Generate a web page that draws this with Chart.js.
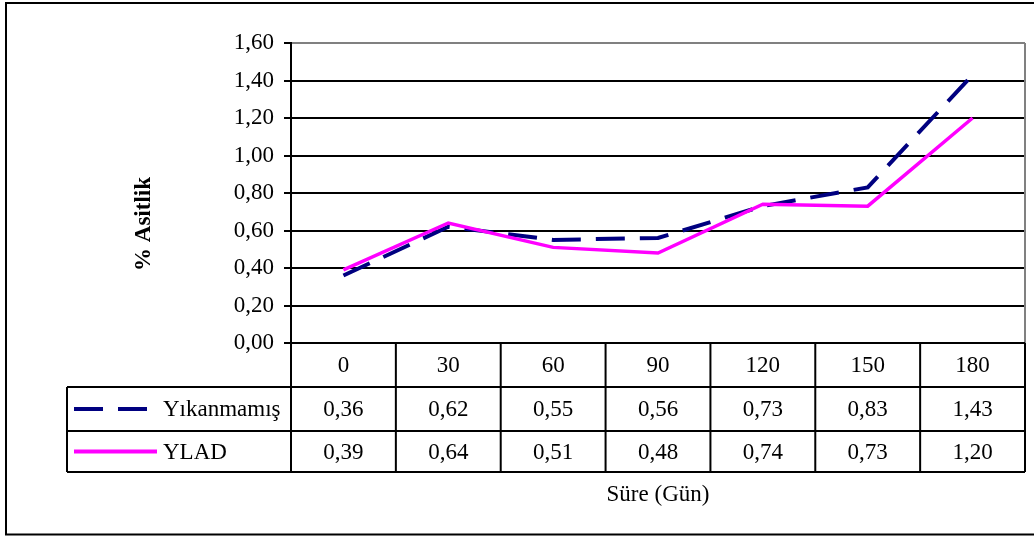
<!DOCTYPE html>
<html>
<head>
<meta charset="utf-8">
<script src="https://cdn.jsdelivr.net/npm/chart.js@4/dist/chart.umd.min.js"></script>
<style>
  html, body { margin: 0; padding: 0; background: #fff; }
  canvas { display: block; }
</style>
</head>
<body>
<canvas id="c" width="1034" height="536"></canvas>
<script>
// Acidity (%) over storage time (days)
const categories = ['0', '30', '60', '90', '120', '150', '180'];
const yikanmamis = [0.36, 0.62, 0.55, 0.56, 0.73, 0.83, 1.43];
const ylad = [0.39, 0.64, 0.51, 0.48, 0.74, 0.73, 1.20];
const seriesNames = ['Yıkanmamış', 'YLAD'];
const yTitle = '% Asitlik';
const xTitle = 'Süre (Gün)';
const yMin = 0, yMax = 1.6, yStep = 0.2;

const FONT = '"Liberation Serif", "Times New Roman", serif';
const FONT_SIZE = 23;
const NAVY = '#000080';
const PINK = '#FF00FF';
const DASH = [29, 15];

const fmt = v => Number(v).toFixed(2).replace('.', ',');

// Table rows under the plot: header height, series row heights
const ROW_H = [44, 44, 41];
const TABLE_LEFT = 67;

const tablePlugin = {
  id: 'dataTable',
  afterDraw(chart) {
    const ctx = chart.ctx;
    const area = chart.chartArea;
    const xs = chart.scales.x;
    const step = (area.right - area.left) / categories.length;
    const edges = categories.map((_, i) => xs.getPixelForValue(i) - step / 2);
    edges.push(xs.getPixelForValue(categories.length - 1) + step / 2);

    const y0 = area.bottom;
    const y1 = y0 + ROW_H[0];
    const y2 = y1 + ROW_H[1];
    const y3 = y2 + ROW_H[2];

    ctx.save();

    // plot frame (grey on top and right)
    ctx.strokeStyle = '#808080';
    ctx.lineWidth = 2;
    ctx.beginPath();
    ctx.moveTo(area.right, area.top);
    ctx.lineTo(area.right, area.bottom);
    ctx.stroke();

    // table grid
    ctx.strokeStyle = '#000';
    ctx.lineWidth = 2;
    ctx.beginPath();
    ctx.moveTo(edges[0], y0); ctx.lineTo(edges[edges.length - 1], y0);
    [y1, y2, y3].forEach(y => { ctx.moveTo(TABLE_LEFT, y); ctx.lineTo(edges[edges.length - 1], y); });
    edges.forEach(x => { ctx.moveTo(x, y0); ctx.lineTo(x, y3); });
    ctx.moveTo(TABLE_LEFT, y1); ctx.lineTo(TABLE_LEFT, y3);
    ctx.stroke();

    // cell text
    ctx.fillStyle = '#000';
    ctx.font = FONT_SIZE + 'px ' + FONT;
    ctx.textAlign = 'center';
    ctx.textBaseline = 'middle';
    categories.forEach((c, i) => {
      const cx = xs.getPixelForValue(i);
      ctx.fillText(c, cx, (y0 + y1) / 2 + 1);
      ctx.fillText(fmt(yikanmamis[i]), cx, (y1 + y2) / 2 + 1);
      ctx.fillText(fmt(ylad[i]), cx, (y2 + y3) / 2 + 1);
    });

    // legend keys in the first column
    const r1 = (y1 + y2) / 2, r2 = (y2 + y3) / 2;
    ctx.lineCap = 'butt';
    ctx.strokeStyle = NAVY;
    ctx.lineWidth = 4;
    ctx.setLineDash(DASH);
    ctx.beginPath(); ctx.moveTo(74, r1); ctx.lineTo(147, r1); ctx.stroke();
    ctx.setLineDash([]);
    ctx.strokeStyle = PINK;
    ctx.lineWidth = 4;
    ctx.beginPath(); ctx.moveTo(74, r2); ctx.lineTo(157, r2); ctx.stroke();

    ctx.textAlign = 'left';
    ctx.fillText(seriesNames[0], 163, r1 + 1);
    ctx.fillText(seriesNames[1], 163, r2 + 1);

    // axis titles
    ctx.textAlign = 'center';
    ctx.fillText(xTitle, (area.left + area.right) / 2, 495);

    ctx.save();
    ctx.translate(144, 224);
    ctx.rotate(-Math.PI / 2);
    ctx.font = 'bold ' + FONT_SIZE + 'px ' + FONT;
    ctx.fillText(yTitle, 0, 0);
    ctx.restore();

    // outer frame
    ctx.strokeStyle = '#000';
    ctx.lineWidth = 2;
    ctx.beginPath();
    ctx.moveTo(1040, 3); ctx.lineTo(6, 3); ctx.lineTo(6, 534.5); ctx.lineTo(1040, 534.5);
    ctx.stroke();

    ctx.restore();
  }
};

new Chart(document.getElementById('c'), {
  type: 'line',
  data: {
    labels: categories,
    datasets: [
      {
        label: seriesNames[0],
        data: yikanmamis,
        borderColor: NAVY,
        borderWidth: 4,
        borderDash: DASH,
        pointRadius: 0,
        tension: 0,
        fill: false,
        order: 1
      },
      {
        label: seriesNames[1],
        data: ylad,
        borderColor: PINK,
        borderWidth: 3.5,
        pointRadius: 0,
        tension: 0,
        fill: false,
        order: 0
      }
    ]
  },
  options: {
    responsive: false,
    animation: false,
    events: [],
    layout: { padding: { top: 43, right: 9, bottom: 193, left: 0 } },
    plugins: {
      legend: { display: false },
      tooltip: { enabled: false }
    },
    scales: {
      x: {
        type: 'category',
        offset: true,
        display: false
      },
      y: {
        min: yMin,
        max: yMax,
        afterFit: s => { s.width = 291; },
        ticks: {
          stepSize: yStep,
          callback: v => fmt(v),
          color: '#000',
          padding: 10,
          font: { family: FONT, size: FONT_SIZE }
        },
        grid: {
          color: c => (c.tick && Math.abs(c.tick.value - yMax) < 1e-9) ? '#808080' : '#000',
          lineWidth: 2,
          tickLength: 7,
          tickColor: '#000'
        },
        border: { display: true, color: '#000', width: 2 }
      }
    }
  },
  plugins: [tablePlugin]
});
</script>
</body>
</html>
